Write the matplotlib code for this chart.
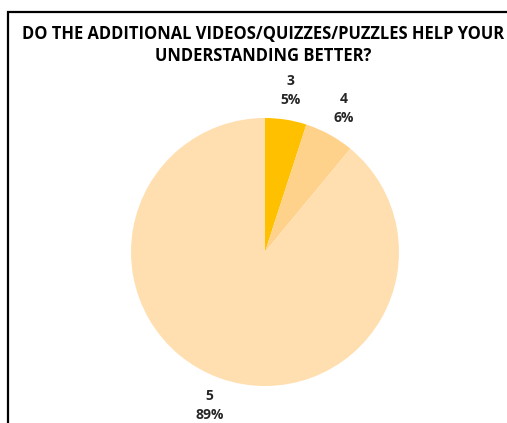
import matplotlib
matplotlib.use("Agg")
import matplotlib.pyplot as plt

categories = ["3", "4", "5"]
percents = [5, 6, 89]
colors = ["#FFC000", "#FFD28C", "#FFDFB0"]
title = "DO THE ADDITIONAL VIDEOS/QUIZZES/PUZZLES HELP YOUR\nUNDERSTANDING BETTER?"

plt.rcParams["font.family"] = ["Open Sans", "DejaVu Sans"]

W, H = 507, 423
fig = plt.figure(figsize=(W / 100, H / 100), dpi=100)
ax = fig.add_axes([0, 0, 1, 1])

labels = [f"{c}\n{p}%" for c, p in zip(categories, percents)]
wedges, texts = ax.pie(
    percents,
    labels=labels,
    colors=colors,
    startangle=90,
    counterclock=False,
    center=(265, H - 252),
    radius=134,
    labeldistance=1.22,
    wedgeprops=dict(linewidth=0),
    frame=True,
)
for t in texts:
    t.set_ha("center")
    t.set_va("center")
    t.set_fontsize(10)
    t.set_fontweight("bold")
    t.set_color("#262626")
    t.set_linespacing(1.45)

ax.set_xlim(0, W)
ax.set_ylim(0, H)
ax.set_aspect("equal")
ax.axis("off")

ax.text(263, H - 45, title, ha="center", va="center", fontsize=11.9,
        fontweight="bold", color="#000000", linespacing=1.3)

# chart border (top and left edges visible)
ax.plot([8, 8, W + 5], [-5, H - 12, H - 12], color="black", lw=1.6,
        clip_on=False, solid_joinstyle="miter")

fig.savefig("out.png", dpi=100, facecolor="white")
